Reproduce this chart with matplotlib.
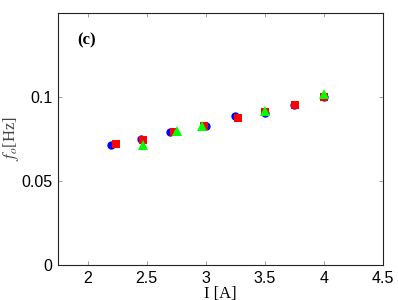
import matplotlib
matplotlib.use('Agg')
import matplotlib.pyplot as plt

# data
x_blue = [2.20, 2.45, 2.70, 3.00, 3.25, 3.50, 3.75, 4.00]
f_blue = [0.0714, 0.0750, 0.0790, 0.0826, 0.0885, 0.0905, 0.0955, 0.0998]

x_red = [2.24, 2.47, 2.73, 2.99, 3.27, 3.50, 3.76, 4.00]
f_red = [0.0718, 0.0744, 0.0790, 0.0826, 0.0873, 0.0910, 0.0954, 0.1002]

x_green = [2.47, 2.76, 2.97, 3.50, 4.00]
f_green = [0.0717, 0.0795, 0.0829, 0.0915, 0.1019]

xticks = [2, 2.5, 3, 3.5, 4, 4.5]
xticklabels = ['2', '2.5', '3', '3.5', '4', '4.5']
yticks = [0, 0.05, 0.1]
yticklabels = ['0', '0.05', '0.1']

plt.rcParams['font.family'] = ['Liberation Sans', 'DejaVu Sans']
plt.rcParams['mathtext.fontset'] = 'stix'

fig = plt.figure(figsize=(3.98, 3.0), dpi=100)
ax = fig.add_axes([0.1457, 0.1167, 0.8163, 0.84])

ax.plot(x_blue, f_blue, 'o', color=(0, 0, 1), markersize=6, markeredgewidth=0)
ax.plot(x_red, f_red, 's', color=(1, 0, 0), markersize=5.2, markeredgewidth=0)
ax.plot(x_green, f_green, '^', color=(0, 1, 0), markersize=6.5, markeredgewidth=0)

ax.set_xlim(1.75, 4.5)
ax.set_ylim(0, 0.15)
ax.set_xticks(xticks)
ax.set_xticklabels(xticklabels)
ax.set_yticks(yticks)
ax.set_yticklabels(yticklabels)
ax.tick_params(direction='in', top=True, right=True, length=3, width=0.5,
               color='#777777', labelsize=11.5, pad=4)
for s in ax.spines.values():
    s.set_linewidth(0.8)
    s.set_color('#222222')

ax.set_xlabel('I [A]', family='Liberation Serif', fontsize=12, labelpad=0)
ax.set_ylabel(r'$f_o$[Hz]', family='Liberation Serif', fontsize=12,
              color='#444444', labelpad=0)
ax.text(0.089, 0.893, '(c)', transform=ax.transAxes, family='Liberation Serif',
        fontweight='bold', fontsize=12, ha='center', va='center')

fig.savefig('out.png', dpi=100)
